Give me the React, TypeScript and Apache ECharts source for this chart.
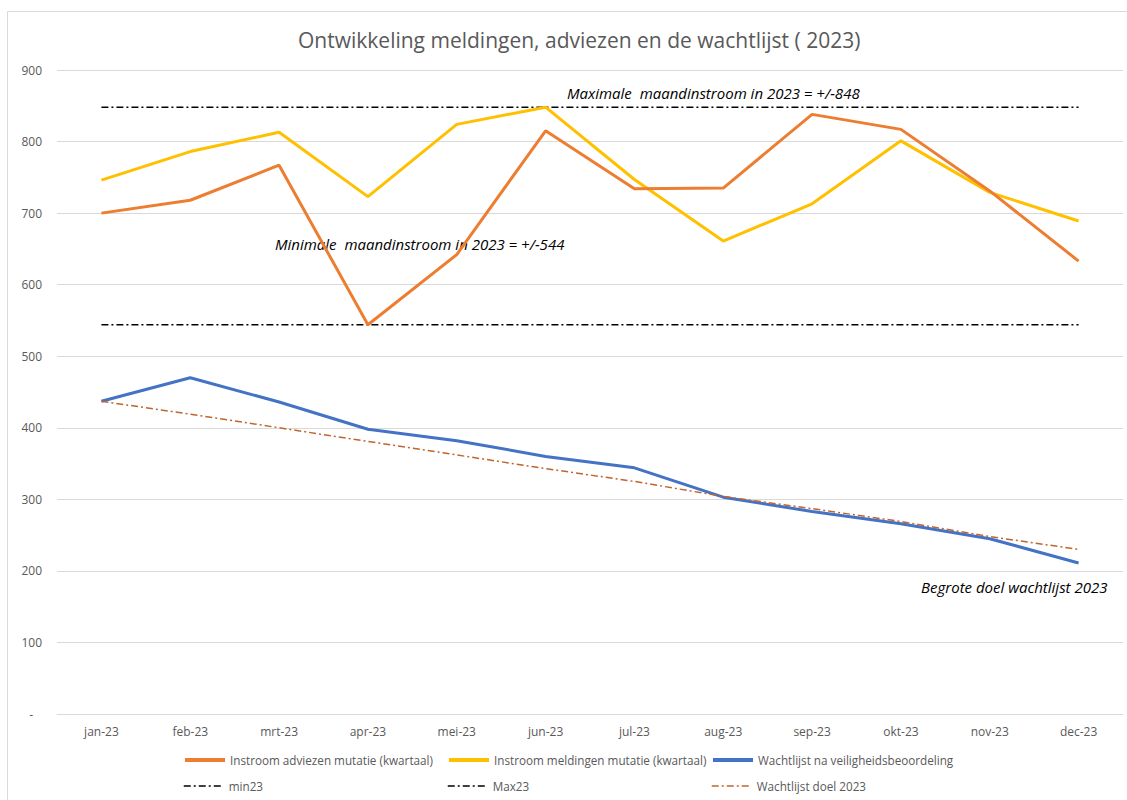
import React, { useEffect, useRef } from "react";
import * as echarts from "echarts";

const months = ["jan-23", "feb-23", "mrt-23", "apr-23", "mei-23", "jun-23", "jul-23", "aug-23", "sep-23", "okt-23", "nov-23", "dec-23"];
const adviezen = [700, 718, 767, 544, 642, 815, 734, 735, 838, 817, 731, 633];
const meldingen = [746, 786, 813, 723, 824, 848, 747, 661, 713, 801, 729, 689];
const wachtlijst = [437, 470, 436, 398, 382, 360, 344, 303, 283, 266, 245, 211];
const min23 = [544, 544, 544, 544, 544, 544, 544, 544, 544, 544, 544, 544];
const max23 = [848, 848, 848, 848, 848, 848, 848, 848, 848, 848, 848, 848];
const doel = [437, 419, 400, 381, 362, 343, 325, 304, 287, 269, 248, 230];

const names = [
  "Instroom adviezen mutatie (kwartaal)",
  "Instroom meldingen mutatie (kwartaal)",
  "Wachtlijst na veiligheidsbeoordeling",
  "min23",
  "Max23",
  "Wachtlijst doel 2023",
];

const title = "Ontwikkeling meldingen, adviezen en de wachtlijst ( 2023)";
const noteMax = "Maximale  maandinstroom in 2023 = +/-848";
const noteMin = "Minimale  maandinstroom in 2023 = +/-544";
const noteDoel = "Begrote doel wachtlijst 2023";

const FONT = "'Open Sans', 'Noto Sans', sans-serif";
const GREY = "#595959";
const DASHDOT = [7, 3, 2, 3];

export default function App() {
  const ref = useRef<HTMLDivElement>(null);
  useEffect(() => {
    if (!ref.current) return;
    const chart = echarts.init(ref.current, null, { renderer: "svg" });
    const legendPos = [
      [183, 754],
      [447, 754],
      [711, 754],
      [183, 780],
      [447, 780],
      [711, 780],
    ];
    chart.setOption({
      animation: false,
      backgroundColor: "#ffffff",
      textStyle: { fontFamily: FONT },
      title: {
        text: title,
        left: 293,
        top: 24,
        textStyle: { fontFamily: FONT, fontSize: 21, fontWeight: "normal", color: GREY },
      },
      legend: names.map((n, i) => ({
        data: [n],
        left: legendPos[i][0],
        top: legendPos[i][1],
        itemWidth: 40,
        itemHeight: 12,
        itemGap: 5,
        padding: 0,
        selectedMode: false,
        itemStyle: { opacity: 0 },
        lineStyle: i < 3 ? { width: 4 } : { width: 1.5 },
        textStyle: { fontFamily: FONT, fontSize: 11.7, color: GREY },
      })),
      grid: { left: 57, right: 4, top: 70, bottom: 86, containLabel: false },
      xAxis: {
        type: "category",
        data: months,
        boundaryGap: true,
        axisLine: { show: true, lineStyle: { color: "#d9d9d9", width: 1 } },
        axisTick: { show: false },
        axisLabel: { color: GREY, fontSize: 12, margin: 11, fontFamily: FONT },
      },
      yAxis: {
        type: "value",
        min: 0,
        max: 900,
        interval: 100,
        axisLine: { show: false },
        axisTick: { show: false },
        splitLine: { lineStyle: { color: "#d9d9d9", width: 1 } },
        axisLabel: {
          color: GREY,
          fontSize: 12,
          margin: 15,
          fontFamily: FONT,
          formatter: (v: number) => (v === 0 ? "{d|-}" : String(v)),
          rich: { d: { color: GREY, fontSize: 12, padding: [0, 9, 0, 0] } },
        },
      },
      series: [
        { name: names[0], type: "line", data: adviezen, symbol: "none", lineStyle: { color: "#ED7D31", width: 3 }, itemStyle: { color: "#ED7D31" }, z: 4 },
        { name: names[1], type: "line", data: meldingen, symbol: "none", lineStyle: { color: "#FFC000", width: 3 }, itemStyle: { color: "#FFC000" }, z: 3 },
        { name: names[2], type: "line", data: wachtlijst, symbol: "none", lineStyle: { color: "#4472C4", width: 3 }, itemStyle: { color: "#4472C4" }, z: 3 },
        { name: names[3], type: "line", data: min23, symbol: "none", lineStyle: { color: "#000000", width: 1.5, type: DASHDOT }, itemStyle: { color: "#000000" }, z: 2 },
        { name: names[4], type: "line", data: max23, symbol: "none", lineStyle: { color: "#000000", width: 1.5, type: DASHDOT }, itemStyle: { color: "#000000" }, z: 2 },
        { name: names[5], type: "line", data: doel, symbol: "none", lineStyle: { color: "#C0652E", width: 1.5, type: DASHDOT }, itemStyle: { color: "#C0652E" }, z: 5 },
      ],
      graphic: [
        {
          type: "rect",
          shape: { x: 7.5, y: 11.5, width: 1200, height: 900 },
          style: { fill: "none", stroke: "#d9d9d9", lineWidth: 1 },
          silent: true,
          z: -1,
        },
        {
          type: "text",
          x: 567,
          y: 93,
          style: { text: noteMax, fontFamily: FONT, fontSize: 15, fontStyle: "italic", fill: "#000000", textVerticalAlign: "middle" },
        },
        {
          type: "text",
          x: 275,
          y: 244,
          style: { text: noteMin, fontFamily: FONT, fontSize: 15, fontStyle: "italic", fill: "#000000", textVerticalAlign: "middle" },
        },
        {
          type: "text",
          x: 921,
          y: 587,
          style: { text: noteDoel, fontFamily: FONT, fontSize: 15, fontStyle: "italic", fill: "#000000", textVerticalAlign: "middle" },
        },
      ],
    });
    return () => chart.dispose();
  }, []);
  return <div ref={ref} style={{ position: "fixed", left: 0, top: 0, width: 1127, height: 800 }} />;
}
